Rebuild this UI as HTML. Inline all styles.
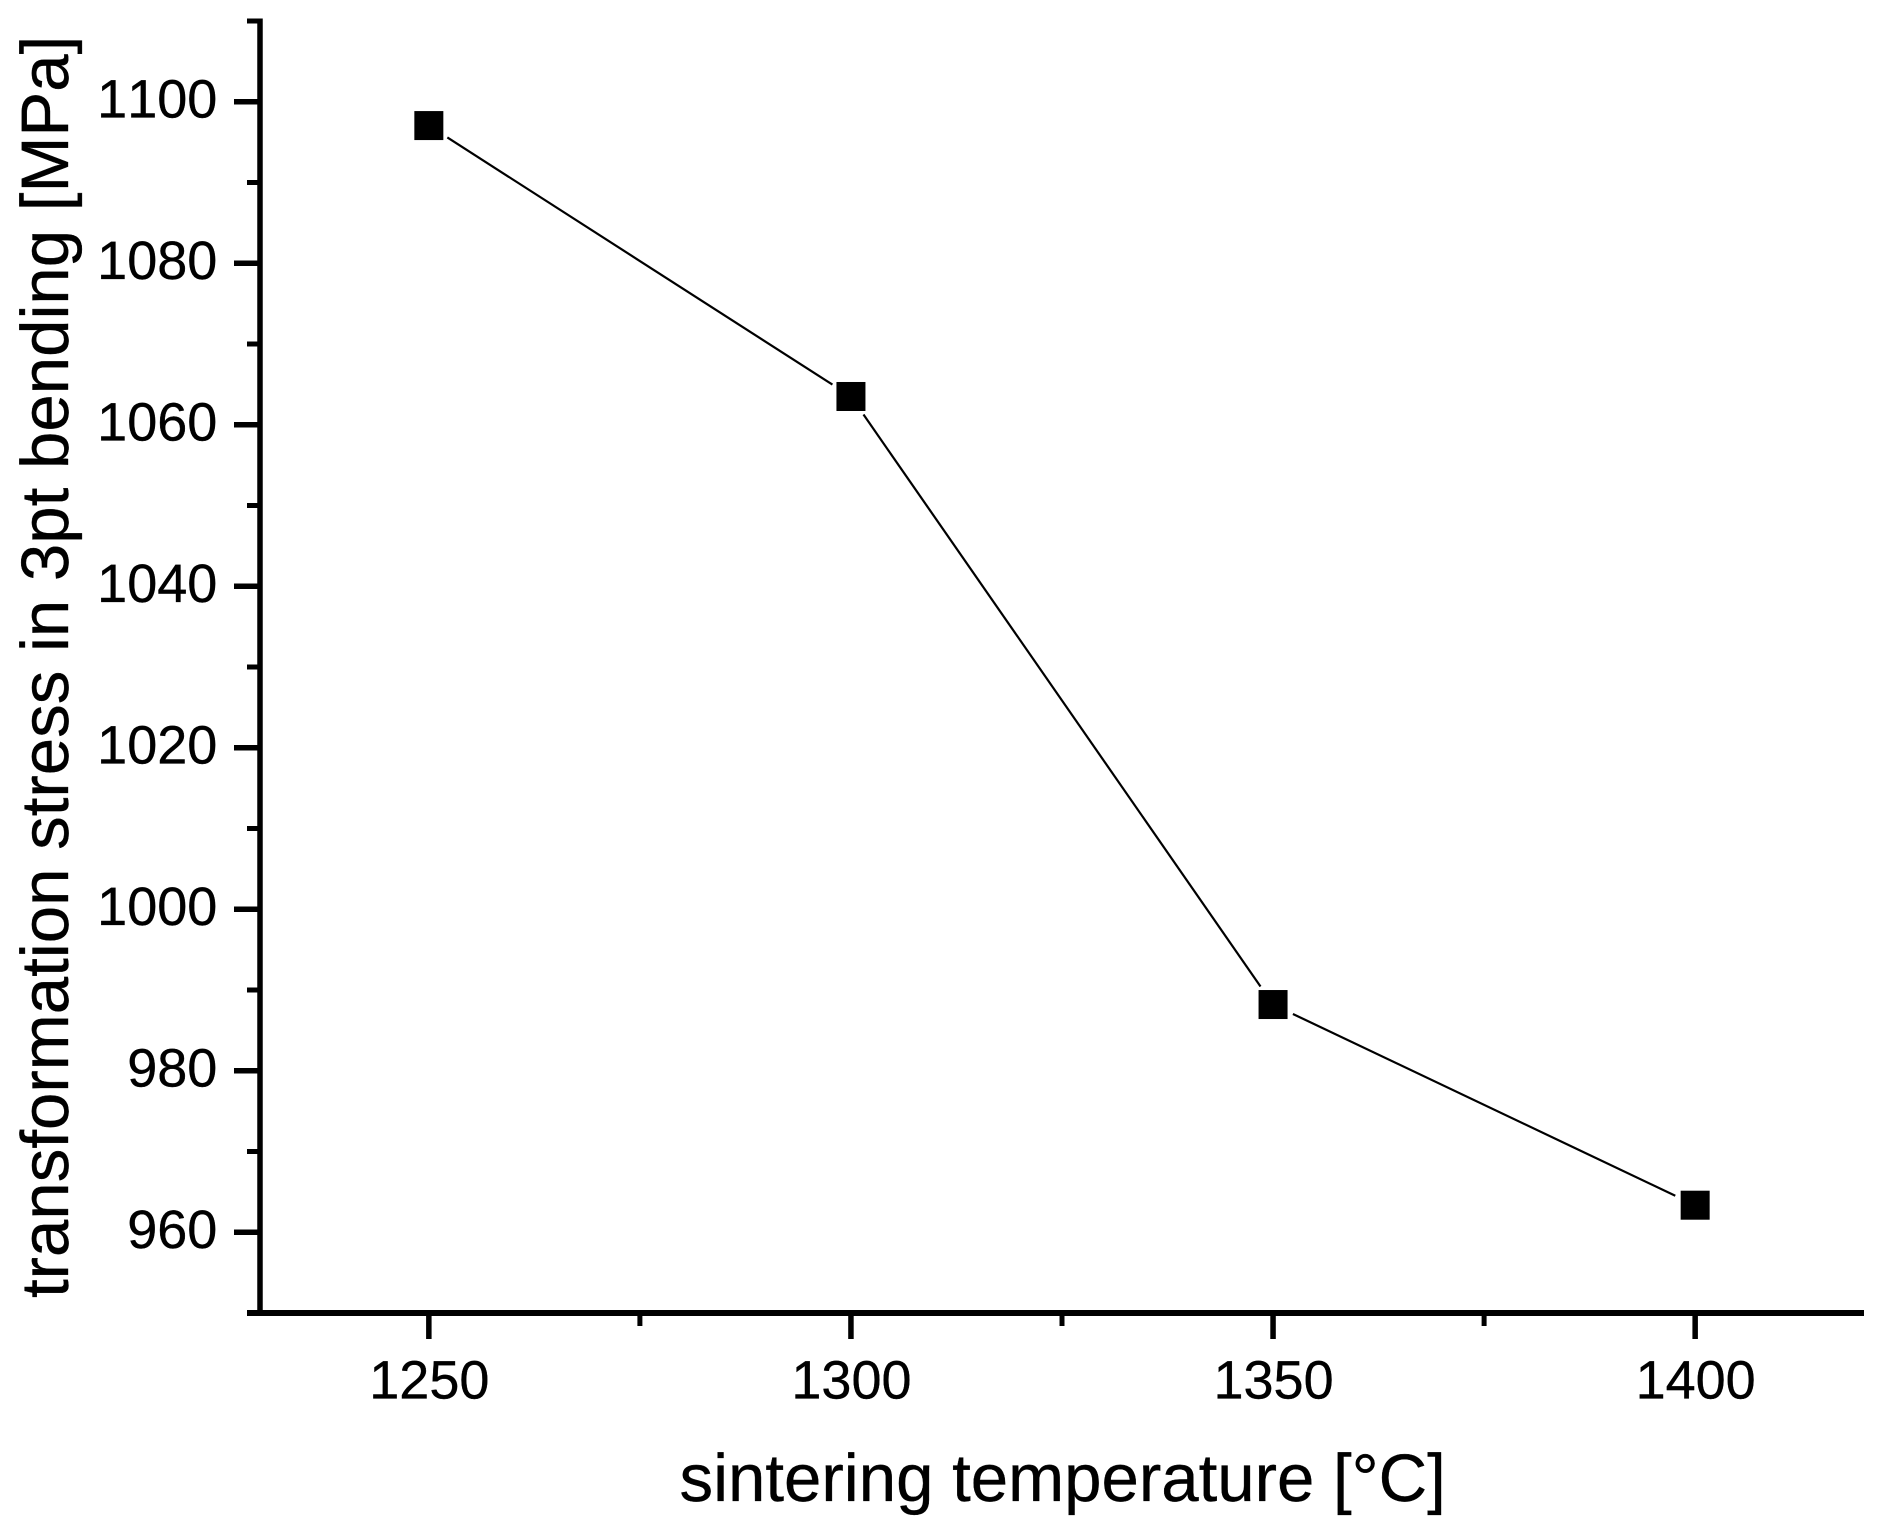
<!DOCTYPE html>
<html lang="en">
<head>
<meta charset="utf-8">
<title>Transformation stress vs sintering temperature</title>
<style>
  html, body { margin: 0; padding: 0; background: #fff; }
  svg { display: block; }
  text { font-family: "Liberation Sans", sans-serif; fill: #000; stroke: #000; stroke-width: 0.35px; font-kerning: none; text-rendering: geometricPrecision; }
</style>
</head>
<body>
<svg id="chart" xmlns="http://www.w3.org/2000/svg" width="1883" height="1532" viewBox="0 0 1883 1532">
  <rect x="0" y="0" width="1883" height="1532" fill="#fff"/>
  <g id="axes"></g>
  <g id="series"></g>
  <text x="679.5" y="1501" font-size="67.2">sintering temperature [°C]</text>
  <text transform="translate(68 1298) rotate(-90)" x="0" y="0" font-size="67.2">transformation stress in 3pt bending [MPa]</text>
</svg>
<script>
const temperatures = [1250, 1300, 1350, 1400];
const stressValues = [1097.05, 1063.5, 988.2, 963.35];
const xMajorTicks = [1250, 1300, 1350, 1400];
const xMinorTicks = [1275, 1325, 1375];
const yMajorTicks = [960, 980, 1000, 1020, 1040, 1060, 1080, 1100];
const yMinorTicks = [950, 970, 990, 1010, 1030, 1050, 1070, 1090, 1110];
const xDomain = [1230, 1420];
const yDomain = [950, 1110];

const NS = 'http://www.w3.org/2000/svg';
const plot = { left: 260, right: 1864, top: 21, bottom: 1313 };
const xScale = v => plot.left + (v - xDomain[0]) / (xDomain[1] - xDomain[0]) * (plot.right - plot.left);
const yScale = v => plot.bottom - (v - yDomain[0]) / (yDomain[1] - yDomain[0]) * (plot.bottom - plot.top);

const axes = document.getElementById('axes');
const series = document.getElementById('series');

function makeLine(parent, x1, y1, x2, y2, width) {
  const l = document.createElementNS(NS, 'line');
  l.setAttribute('x1', x1);
  l.setAttribute('y1', y1);
  l.setAttribute('x2', x2);
  l.setAttribute('y2', y2);
  l.setAttribute('stroke', '#000');
  l.setAttribute('stroke-width', width);
  parent.appendChild(l);
  return l;
}
function makeText(parent, x, y, anchor, str) {
  const t = document.createElementNS(NS, 'text');
  t.setAttribute('x', x);
  t.setAttribute('y', y);
  t.setAttribute('text-anchor', anchor);
  t.setAttribute('font-size', '54');
  t.textContent = str;
  parent.appendChild(t);
  return t;
}

const yAxisLine = makeLine(axes, plot.left, plot.top - 2.5, plot.left, plot.bottom + 3, 5.5);


const xAxisLine = makeLine(axes, plot.left, plot.bottom, plot.right, plot.bottom, 6);



yMajorTicks.forEach(v => {
  const tick = makeLine(axes, 234, yScale(v), plot.left, yScale(v), 5.5);
  
  
  const label = makeText(axes, 217.3, yScale(v) + 15.5, 'end', String(v));
  
  
});
yMinorTicks.forEach(v => {
  const tick = makeLine(axes, 247, yScale(v), plot.left, yScale(v), v === 950 ? 6 : 5);
  
  
});
xMajorTicks.forEach(v => {
  const tick = makeLine(axes, xScale(v), plot.bottom, xScale(v), 1339, 5.5);
  
  
  const label = makeText(axes, xScale(v) + 0.5, 1398.5, 'middle', String(v));
  
  
});
xMinorTicks.forEach(v => {
  const tick = makeLine(axes, xScale(v), plot.bottom, xScale(v), 1326, 5);
  
  
});

const markerGap = 22;
for (let i = 0; i < temperatures.length - 1; i++) {
  const ax = xScale(temperatures[i]);
  const ay = yScale(stressValues[i]);
  const bx = xScale(temperatures[i + 1]);
  const by = yScale(stressValues[i + 1]);
  const len = Math.hypot(bx - ax, by - ay);
  const ux = (bx - ax) / len;
  const uy = (by - ay) / len;
  const seg = makeLine(series, ax + ux * markerGap, ay + uy * markerGap, bx - ux * markerGap, by - uy * markerGap, 2.2);
  
  
}
const markerSize = 29;
temperatures.forEach((t, i) => {
  const r = document.createElementNS(NS, 'rect');
  r.setAttribute('x', xScale(t) - markerSize / 2);
  r.setAttribute('y', yScale(stressValues[i]) - markerSize / 2);
  r.setAttribute('width', markerSize);
  r.setAttribute('height', markerSize);
  r.setAttribute('fill', '#000');
  
  
  series.appendChild(r);
});
</script>
</body>
</html>
